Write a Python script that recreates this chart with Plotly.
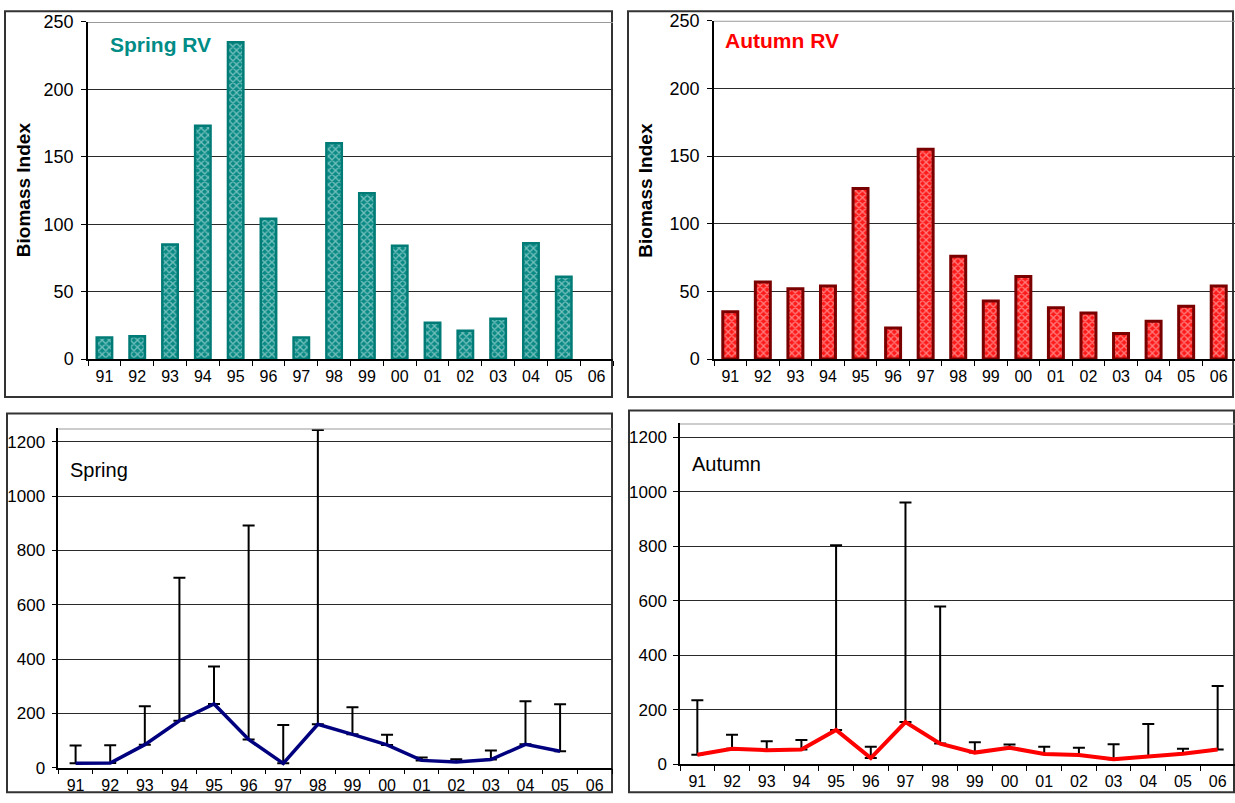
import plotly.graph_objects as go

# Survey years (two-digit labels) shared by all four panels
years = ["91", "92", "93", "94", "95", "96", "97", "98",
         "99", "00", "01", "02", "03", "04", "05", "06"]

# Biomass index, spring and autumn research-vessel surveys
spring_rv = [16, 17, 85, 173, 235, 104, 16, 160, 123, 84, 27, 21, 30, 86, 61]
autumn_rv = [35, 57, 52, 54, 126, 23, 155, 76, 43, 61, 38, 34, 19, 28, 39, 54]

# Upper confidence bounds shown as one-sided error bars
spring_upper = [82, 83, 226, 700, 373, 892, 157, 1244, 223, 121, 38, 31, 63, 245, 234]
autumn_upper = [235, 108, 85, 89, 803, 64, 960, 579, 81, 73, 64, 61, 74, 148, 57, 287]

W, H = 1235, 803
OFFSET, SCALE = 8.5, 0.977  # vertical placement of the page content
FONT = "Liberation Sans, Arial, sans-serif"


def px_x(v):
    return v / W


def px_y(v):
    y = (v - OFFSET) / SCALE
    return min(1.0, max(0.0, 1 - y / H))


fig = go.Figure()

# --- top panels: bar charts ---
fig.add_trace(go.Bar(
    x=years[:len(spring_rv)], y=spring_rv, xaxis="x", yaxis="y", width=0.47,
    marker=dict(color="#0a8a85", line=dict(color="#007b76", width=2.5),
                pattern=dict(shape="x", fgcolor="#e2f6f4", bgcolor="#0a8a85",
                             size=5, solidity=0.45)),
    showlegend=False, hoverinfo="x+y"))

fig.add_trace(go.Bar(
    x=years[:len(autumn_rv)], y=autumn_rv, xaxis="x2", yaxis="y2", width=0.46,
    marker=dict(color="#ff1a1a", line=dict(color="#7a0000", width=3),
                pattern=dict(shape="x", fgcolor="#ffe2e2", bgcolor="#ff1a1a",
                             size=5, solidity=0.45)),
    showlegend=False, hoverinfo="x+y"))

# --- bottom panels: index lines with upper bounds ---
fig.add_trace(go.Scatter(
    x=years[:len(spring_rv)], y=spring_rv, xaxis="x3", yaxis="y3", mode="lines",
    line=dict(color="#00007f", width=3.5),
    error_y=dict(type="data", symmetric=False,
                 array=[u - v for u, v in zip(spring_upper, spring_rv)],
                 arrayminus=[0] * len(spring_rv),
                 color="black", thickness=2, width=6),
    showlegend=False))

fig.add_trace(go.Scatter(
    x=years[:len(autumn_rv)], y=autumn_rv, xaxis="x4", yaxis="y4", mode="lines",
    line=dict(color="#ff0000", width=4),
    error_y=dict(type="data", symmetric=False,
                 array=[u - v for u, v in zip(autumn_upper, autumn_rv)],
                 arrayminus=[0] * len(autumn_rv),
                 color="black", thickness=2, width=6),
    showlegend=False))


def xaxis_cfg(x0, x1, anchor):
    return dict(domain=[px_x(x0), px_x(x1)], anchor=anchor, type="category",
                categoryorder="array", categoryarray=years,
                range=[-0.5, len(years) - 0.5], tickson="boundaries",
                ticks="outside", ticklen=5, tickwidth=1, tickcolor="black",
                showline=True, linecolor="black", linewidth=1.5,
                showgrid=False, zeroline=False, ticklabelstandoff=2,
                tickfont=dict(family=FONT, size=16, color="black"))


def yaxis_cfg(y_top, y_bot, anchor, top, step, size, standoff):
    return dict(domain=[px_y(y_bot), px_y(y_top)], anchor=anchor,
                range=[0, top], tickvals=list(range(0, top + 1, step)),
                ticks="outside", ticklen=5, tickwidth=1, tickcolor="black",
                showline=True, linecolor="black", linewidth=1.5,
                showgrid=True, gridcolor="#2a2a2a", gridwidth=1,
                zeroline=False, ticklabelstandoff=standoff,
                tickfont=dict(family=FONT, size=size, color="black"))


fig.update_layout(
    width=W, height=H, margin=dict(l=0, r=0, t=0, b=0),
    paper_bgcolor="white", plot_bgcolor="white",
    font=dict(family=FONT, color="black"),
    xaxis=xaxis_cfg(88, 613, "y"),
    yaxis=yaxis_cfg(20.5, 358.3, "x", 250, 50, 18, 4),
    xaxis2=xaxis_cfg(714, 1235, "y2"),
    yaxis2=yaxis_cfg(19.3, 358.3, "x2", 250, 50, 18, 4),
    xaxis3=xaxis_cfg(58.3, 612, "y3"),
    yaxis3=yaxis_cfg(427.7, 767.7, "x3", 1200, 200, 17, 3),
    xaxis4=xaxis_cfg(680, 1235, "y4"),
    yaxis4=yaxis_cfg(422.7, 764.3, "x4", 1200, 200, 17, 3),
)
# the line panels run a little past the last labelled tick
fig.layout.yaxis3.range = [0, 1250]
fig.layout.yaxis4.range = [0, 1250]

shapes = []
# panel frames
for x0, y0, x1, y1 in [(5, 9, 612, 397), (628, 9, 1233, 397),
                       (7, 412, 612, 802), (629, 409, 1234, 802)]:
    shapes.append(dict(type="rect", xref="paper", yref="paper",
                       x0=px_x(x0), x1=px_x(x1), y0=px_y(y1) + 0.001,
                       y1=px_y(y0) - 0.001,
                       line=dict(color="#333333", width=2), layer="below"))
# grey top edge of each plotting area
for xr, yr, top in [("x", "y", 250), ("x2", "y2", 250),
                    ("x3", "y3", 1250), ("x4", "y4", 1250)]:
    shapes.append(dict(type="line", xref=f"{xr} domain", yref=yr,
                       x0=0, x1=1, y0=top, y1=top,
                       line=dict(color="#9a9a9a", width=2)))
fig.update_layout(shapes=shapes)

annotations = [
    dict(text="<b>Spring RV</b>", x=px_x(108), y=px_y(43),
         font=dict(family=FONT, size=21, color="#008c86")),
    dict(text="<b>Autumn RV</b>", x=px_x(723), y=px_y(39.5),
         font=dict(family=FONT, size=21, color="#ff0000")),
    dict(text="Spring", x=px_x(68), y=px_y(469),
         font=dict(family=FONT, size=20, color="black")),
    dict(text="Autumn", x=px_x(690), y=px_y(463),
         font=dict(family=FONT, size=20, color="black")),
]
for a in annotations:
    a.update(xref="paper", yref="paper", xanchor="left", yanchor="middle",
             showarrow=False)
for cx in (23, 645.5):
    annotations.append(dict(text="<b>Biomass Index</b>", x=px_x(cx), y=px_y(189),
                            xref="paper", yref="paper", xanchor="center",
                            yanchor="middle", textangle=-90, showarrow=False,
                            font=dict(family=FONT, size=19, color="black")))
fig.update_layout(annotations=annotations)

fig.write_html("out.html")
